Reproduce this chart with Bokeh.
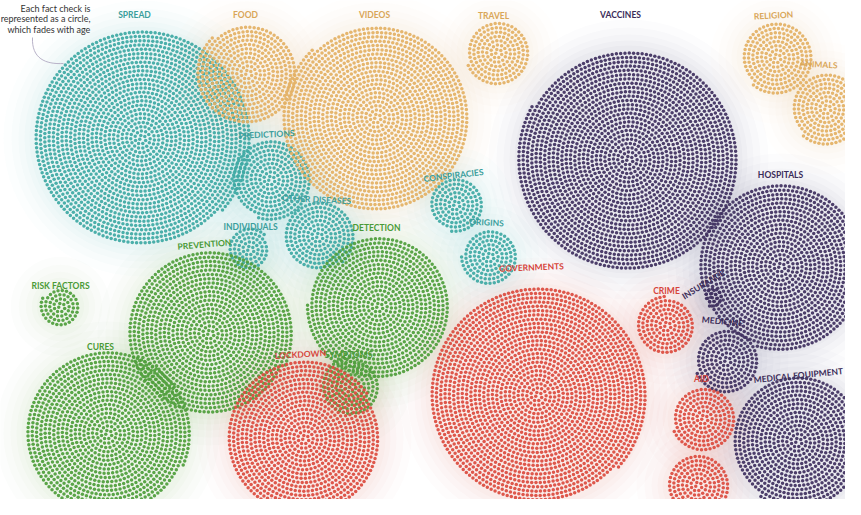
import numpy as np
from bokeh.plotting import figure
from bokeh.models import Range1d
from bokeh.embed import file_html
from bokeh.resources import INLINE
from bokeh.core.properties import value

# ---------------- data ----------------
topics = ["SPREAD", "PREDICTIONS", "OTHER DISEASES", "INDIVIDUALS", "CONSPIRACIES", "ORIGINS",
          "FOOD", "VIDEOS", "TRAVEL", "RELIGION", "ANIMALS",
          "VACCINES", "HOSPITALS", "INSURANCE", "MEDICINE", "MEDICAL EQUIPMENT",
          "RISK FACTORS", "PREVENTION", "DETECTION", "CURES", "SYMPTOMS",
          "GOVERNMENTS", "LOCKDOWN", "CRIME", "AID", ""]
groups = ["science"] * 6 + ["life"] * 5 + ["health"] * 5 + ["medical"] * 5 + ["society"] * 5
fact_checks = [1982, 272, 208, 75, 124, 133,
               425, 1470, 174, 220, 220,
               2056, 1170, 17, 174, 740,
               66, 1142, 856, 1142, 143,
               1982, 1007, 143, 174, 163]

# ---------------- layout (screen-like coordinates) ----------------
bubble_x = [141, 270, 318, 249, 455, 489,
            247, 376, 497, 776, 826,
            628, 780, 712, 726, 797,
            60, 209, 378, 107, 351,
            537, 304, 666, 703, 697]
bubble_y = [138, 179, 236, 249, 204, 256,
            73, 117, 52, 57, 108,
            159, 266, 296, 360, 441,
            306, 333, 306, 433, 386,
            395, 438, 325, 418, 485]
label_x = [134, 266, 316, 250, 453, 486,
           245, 374, 493, 773, 818,
           620, 780, 703, 722, 798,
           60, 204, 376, 100, 348,
           531, 300, 666, 701, 0]
label_y = [14, 134, 199, 226, 175, 222,
           14, 14, 15, 15, 64,
           14, 174, 284, 321, 375,
           285, 244, 227, 346, 354,
           267, 354, 290, 378, 0]
label_angle = [0, 0.05, -0.05, 0, 0.12, -0.05,
               0, 0, 0, 0.05, -0.05,
               0, 0, 0.55, -0.1, 0.1,
               0, 0.08, 0, 0, 0,
               0.04, 0.06, 0, 0, 0]

dot_colors = {"science": "#3ea9a4", "life": "#e3b064", "health": "#3f3060",
              "medical": "#4f9e3b", "society": "#dc4b3e"}
text_colors = {"science": "#3a9e9c", "life": "#d9a658", "health": "#3a2b58",
               "medical": "#4a9a37", "society": "#d6443a"}

SPACING = 4.3
b = SPACING / (2 * np.pi)

dx, dy, dc = [], [], []
for cx, cy, n, g in zip(bubble_x, bubble_y, fact_checks, groups):
    k = np.arange(n) + 0.6
    theta = np.sqrt(2 * k * SPACING / b)
    r = b * theta
    dx.append(cx + r * np.cos(theta))
    dy.append(cy + r * np.sin(theta))
    dc += [dot_colors[g]] * n
dx = np.concatenate(dx)
dy = np.concatenate(dy)

radii = [np.sqrt(n * SPACING * SPACING / np.pi) for n in fact_checks]

p = figure(width=845, height=499, output_backend="svg", toolbar_location=None,
           x_range=Range1d(0, 845), y_range=Range1d(499, 0), min_border=0)
p.axis.visible = False
p.grid.visible = False
p.outline_line_color = None
p.background_fill_color = "white"
p.border_fill_color = "white"

# soft glows
for add, a in [(30, 0.016), (22, 0.018), (15, 0.02), (9, 0.022), (4, 0.025)]:
    p.circle(x=bubble_x, y=bubble_y, radius=[r + add for r in radii],
             fill_color=[dot_colors[g] for g in groups], fill_alpha=a, line_color=None)

# dots
p.scatter(x=dx, y=dy, size=3.5, marker="circle", fill_color=dc, fill_alpha=0.93, line_color=None)

# labels
lab_idx = [i for i, t in enumerate(topics) if t]
p.text(x=[label_x[i] for i in lab_idx], y=[label_y[i] for i in lab_idx],
       text=[topics[i] for i in lab_idx], angle=[label_angle[i] for i in lab_idx],
       text_color=[text_colors[groups[i]] for i in lab_idx],
       text_font=value("Lato"), text_font_style="bold", text_font_size="8.5px",
       text_align="center", text_baseline="middle")

# annotation
note = ["Each fact check is", "represented as a circle,", "which fades with age"]
p.text(x=[90, 90, 90], y=[8, 18, 28.5], text=note, text_color="#333333",
       text_font=value("Lato"), text_font_size="9px", text_align="right",
       text_baseline="middle")
p.bezier(x0=32, y0=37, x1=63, y1=63, cx0=31, cy0=58, cx1=45, cy1=64,
         line_color="#b8b2c8", line_width=1)

open("out.html", "w").write(file_html(p, INLINE))
